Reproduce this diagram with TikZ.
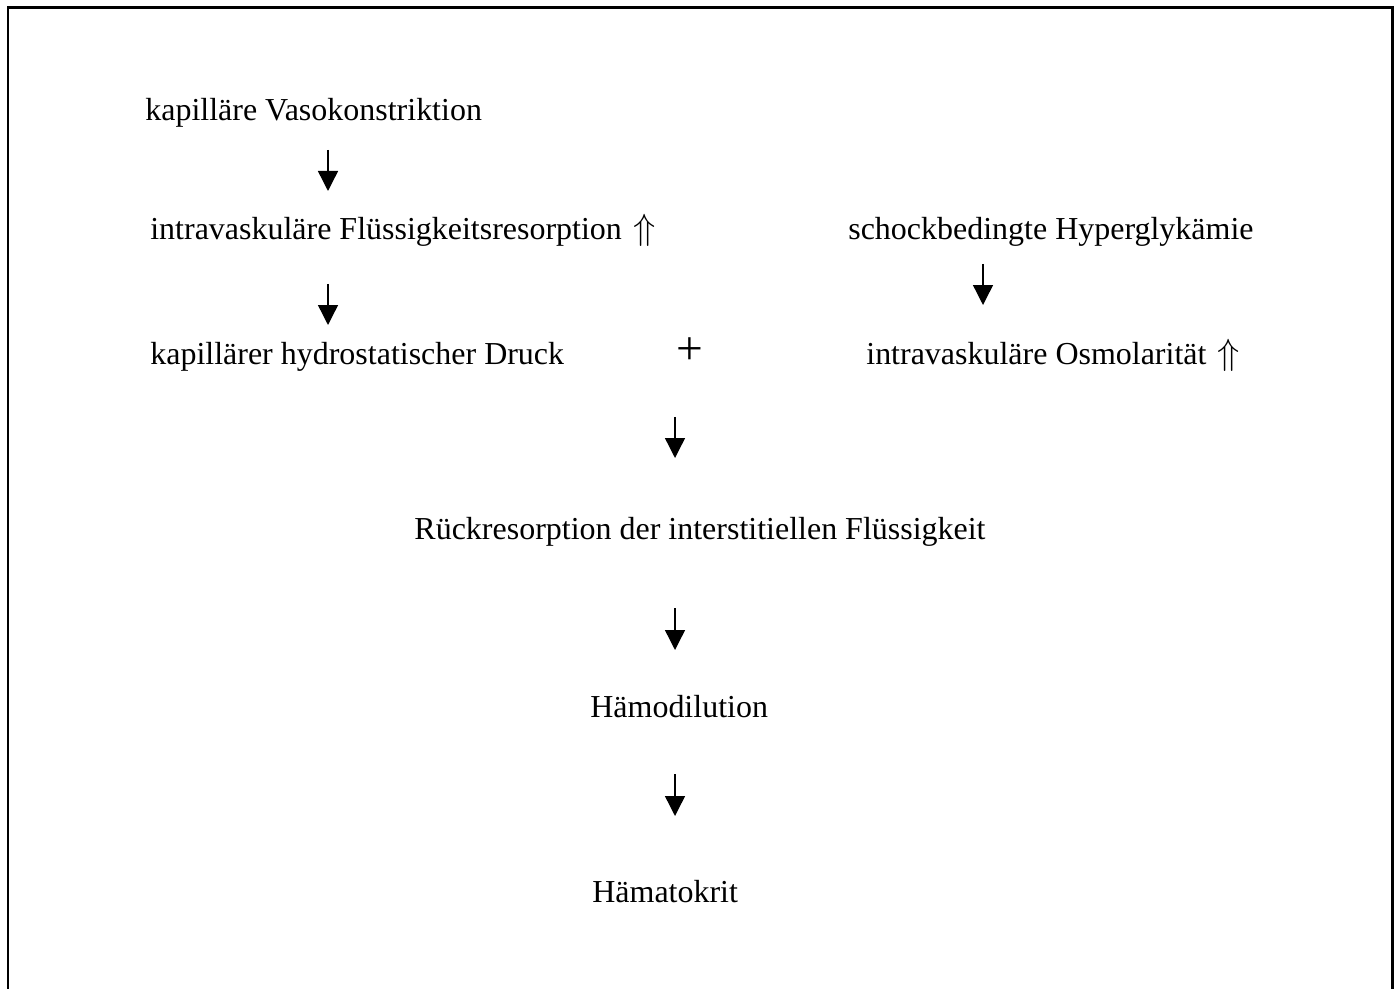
\documentclass[tikz,border=0pt]{standalone}
\usepackage{amsmath, amssymb}
\usepackage{fontspec}
\setmainfont{Liberation Serif}
\usetikzlibrary{calc,arrows.meta}

% tall double arrow behind a label
\newcommand{\hoch}{\hspace{0.1em}{\fontsize{22}{22}\selectfont$\Uparrow$}}

\begin{document}
\begin{tikzpicture}[x=0.02cm, y=-0.02cm, font=\fontsize{18.2}{21}\selectfont,
    txt/.style={anchor=base west, inner sep=0pt},
    pfeil/.style={line width=0.8pt, -{Triangle[length=0.4cm, width=0.4cm]}}]

      % Picture size (pixels of the page)
      \def\W{1396}
      \def\Hh{989}
      \useasboundingbox (0,0) rectangle (\W,\Hh);

      % open frame (no bottom edge)
      \draw[line width=1.7pt] (8,\Hh+10) -- (8,8) -- (1392,8) -- (1392,\Hh+10);

      % left column (positions are baselines)
      \node[txt] (vaso)  at (145,121) {kapilläre Vasokonstriktion};
      \node[txt] (resor) at (150,240) {intravaskuläre Flüssigkeitsresorption \hoch};
      \node[txt] (druck) at (150,365) {kapillärer hydrostatischer Druck};

      % right column
      \node[txt] (hyper) at (848,240) {schockbedingte Hyperglykämie};
      \node[txt] (osmo)  at (866,365) {intravaskuläre Osmolarität \hoch};

      % plus sign between both columns
      \node[inner sep=0pt, font=\fontsize{27}{27}\selectfont] (plus) at (690,351) {+};

      % centre column
      \node[anchor=base, inner sep=0pt] (rueck) at (700,540) {Rückresorption der interstitiellen Flüssigkeit};
      \node[txt] (haemo) at (590,717) {Hämodilution};
      \node[txt] (hkt)   at (592,902) {Hämatokrit};

      % arrow ends (free floating between the lines)
      \coordinate (a1) at (328,150);  \coordinate (b1) at (328,191);
      \coordinate (a2) at (328,284);  \coordinate (b2) at (328,325);
      \coordinate (a3) at (983,264);  \coordinate (b3) at (983,305);
      \coordinate (a4) at (675,417);  \coordinate (b4) at (675,458);
      \coordinate (a5) at (675,608);  \coordinate (b5) at (675,650);
      \coordinate (a6) at (675,774);  \coordinate (b6) at (675,816);

      % arrows
      \foreach \i in {1,...,6}
        \draw[pfeil] (a\i) -- (b\i);

    \end{tikzpicture}
\end{document}
